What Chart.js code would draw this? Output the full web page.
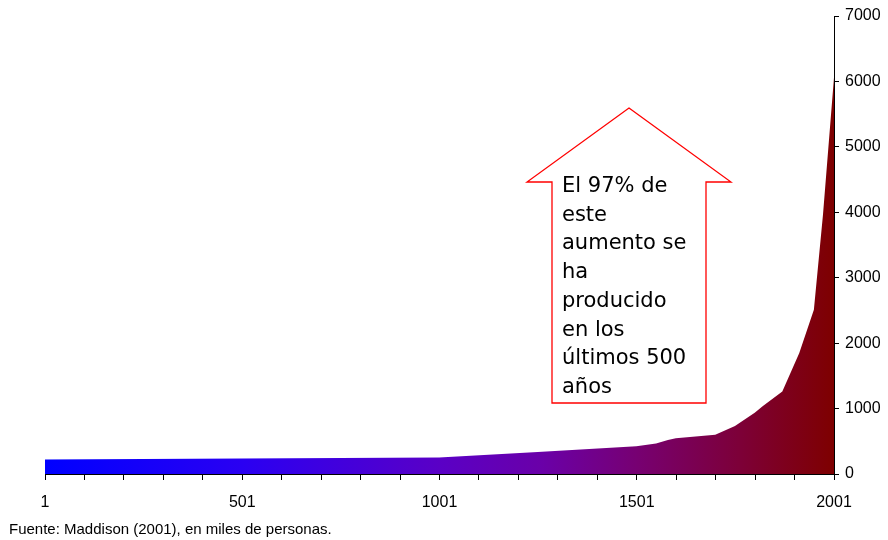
<!DOCTYPE html>
<html>
<head>
<meta charset="utf-8">
<script src="https://cdn.jsdelivr.net/npm/chart.js@4.4.1/dist/chart.umd.min.js"></script>
<style>
	body{margin:0;background:#fff;}
	#wrap{position:relative;width:888px;height:540px;}
</style>
</head>
<body>
<div id="wrap"><canvas id="myChart" width="888" height="540"></canvas></div>
<script>
//데이터 (Maddison, población mundial)
const years = [1, 1000, 1250, 1500, 1550, 1580, 1600, 1700, 1750, 1800, 1820, 1870, 1913, 1950, 1973, 2001];
const population = [222, 252, 338, 425, 468, 520, 545, 598, 735, 935, 1035, 1260, 1850, 2510, 3960, 6060];

const xTickLabels = ['1', '501', '1001', '1501', '2001'];
const yTickLabels = ['0', '1000', '2000', '3000', '4000', '5000', '6000', '7000'];

const noteText = 'Fuente: Maddison (2001), en miles de personas.';
const arrowLines = ['El 97% de', 'este', 'aumento se', 'ha', 'producido', 'en los', 'últimos 500', 'años'];

//x 보조 눈금 (100년 간격)
const xMinorTicks = [];
for(let v = 1; v <= 2001; v += 100){ xMinorTicks.push(v); }

const ctx = document.getElementById('myChart');

//그라데이션 (파랑 -> 진한 빨강)
function areaGradient(context){
	const chart = context.chart;
	const a = chart.chartArea;
	if(!a) return '#0000ff';
	const g = chart.ctx.createLinearGradient(a.left, 0, a.right, 0);
	g.addColorStop(0, '#0000ff');
	g.addColorStop(0.25, '#2a00f2');
	g.addColorStop(0.5, '#5a00c6');
	g.addColorStop(0.63, '#6a00a8');
	g.addColorStop(0.75, '#770072');
	g.addColorStop(0.88, '#7d0038');
	g.addColorStop(1, '#7e0000');
	return g;
}

//화살표 + 주석
const arrowPlugin = {
	id: 'arrowNote',
	afterDraw(chart){
		const c = chart.ctx;
		c.save();
		c.beginPath();
		c.moveTo(629, 108);
		c.lineTo(731, 182);
		c.lineTo(706, 182);
		c.lineTo(706, 403);
		c.lineTo(552, 403);
		c.lineTo(552, 182);
		c.lineTo(527, 182);
		c.closePath();
		c.fillStyle = '#ffffff';
		c.fill();
		c.strokeStyle = '#ff0000';
		c.lineWidth = 1.3;
		c.stroke();

		c.fillStyle = '#000';
		c.font = '21px "DejaVu Sans"';
		c.textBaseline = 'alphabetic';
		arrowLines.forEach((t, i) => {
			c.fillText(t, 562, 192 + i * 28.7);
		});

		c.font = '15px "Liberation Sans", Arial';
		c.fillText(noteText, 9, 534);
		c.restore();
	}
};

new Chart(ctx, {
	type: 'line',
	data: {
		datasets: [{
			label: 'Población',
			data: years.map((y, i) => ({x: y, y: population[i]})),
			fill: 'origin',
			backgroundColor: areaGradient,
			borderWidth: 0,
			pointRadius: 0,
			tension: 0
		}]
	},
	options: {
		responsive: false,
		animation: false,
		layout: { padding: { left: 45, top: 16, right: 0, bottom: 26 } },
		plugins: { legend: { display: false }, tooltip: { enabled: false } },
		scales: {
			x: {
				type: 'linear',
				min: 1,
				max: 2001,
				afterBuildTicks: (s) => { s.ticks = xMinorTicks.map(v => ({value: v})); },
				afterFit: (s) => { s.height = 40; },
				grid: { drawOnChartArea: false, drawTicks: true, tickLength: 6, color: '#000' },
				border: { display: true, color: '#000', width: 1 },
				ticks: {
					autoSkip: false,
					maxRotation: 0,
					padding: 13,
					color: '#000',
					font: { family: '"Liberation Sans", Arial', size: 16 },
					callback: (v) => xTickLabels.includes(String(v)) ? String(v) : ''
				}
			},
			y: {
				position: 'right',
				min: 0,
				max: 7000,
				afterFit: (s) => { s.width = 54; },
				grid: { drawOnChartArea: false, drawTicks: true, tickLength: 5, color: '#000' },
				border: { display: true, color: '#000', width: 1 },
				ticks: {
					stepSize: 1000,
					padding: 6,
					color: '#000',
					font: { family: '"Liberation Sans", Arial', size: 16 },
					callback: (v) => yTickLabels.includes(String(v)) ? String(v) : ''
				}
			}
		}
	},
	plugins: [arrowPlugin]
});
</script>
</body>
</html>
